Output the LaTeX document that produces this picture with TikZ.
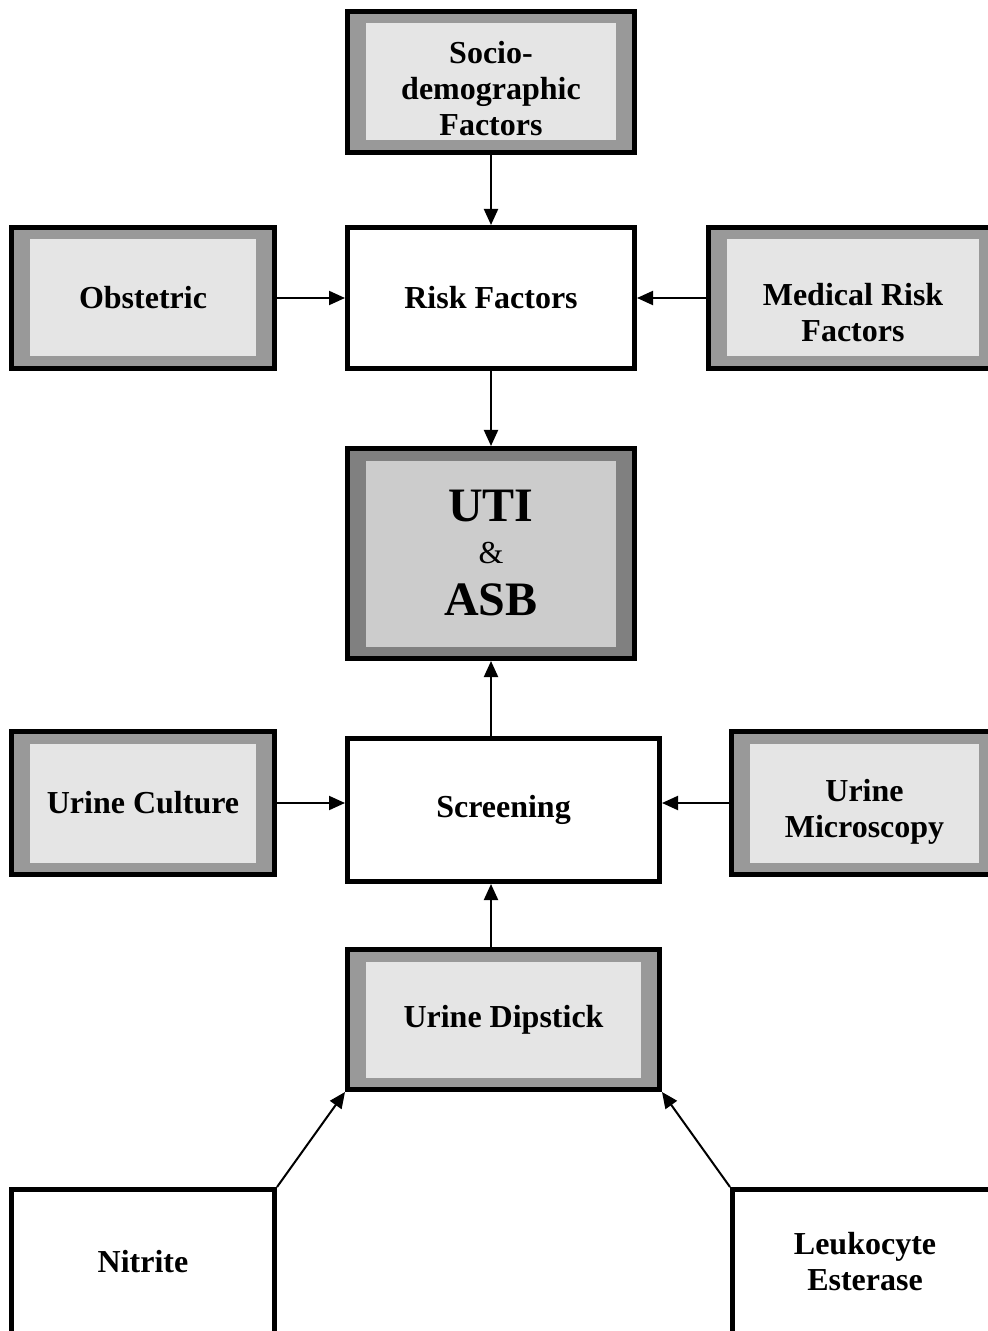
\documentclass[tikz,border=0pt]{standalone}
\usepackage{fontspec}
\setmainfont{Liberation Serif}
\usepackage{tikz}
\usetikzlibrary{arrows.meta}
\definecolor{framegray}{gray}{.6}
\definecolor{lightfill}{gray}{.9}
\definecolor{darkframe}{gray}{.5}
\definecolor{darkfill}{gray}{.8}
\newcommand{\px}{0.5pt}
\newcommand{\widthside}{263*\px}
\newcommand{\widthmid}{287*\px}
\newcommand{\widthwide}{312*\px}
\newcommand{\heightbox}{141*\px}
\newcommand{\dropline}[1]{\rule{0pt}{#1}}
\tikzset{
    common/.style={draw, rectangle, line width=5*\px, minimum height=\heightbox, align=center,
        font=\fontsize{16}{18}\selectfont\bfseries},
    plain/.style={common, fill=white},
    framed/.style 2 args={common, fill=#1,
        path picture={
            \fill[#2]
                ([shift={(18.5*\px,12*\px)}]path picture bounding box.south west) rectangle
                ([shift={(-18.5*\px,-12*\px)}]path picture bounding box.north east);
        }
    },
    lightbox/.style={framed={framegray}{lightfill}},
    darkbox/.style={framed={darkframe}{darkfill}},
    flow/.style={-{Triangle[length=8pt, width=7pt]}, line width=2*\px}
}

\begin{document}
\begin{tikzpicture}[x=\px, y=-\px]
    \useasboundingbox (0,0) rectangle (988,1331);

    \node[lightbox, minimum width=\widthmid] (socio) at (491,82) {\dropline{18pt}Socio-\\demographic\\Factors};
    \node[plain, minimum width=\widthmid] (risk) at (491,298) {Risk Factors};
    \node[lightbox, minimum width=\widthside] (obst) at (143,298) {Obstetric};
    \node[lightbox, minimum width=289*\px] (medical) at (853,298) {\dropline{26pt}Medical Risk\\Factors};
    \node[darkbox, minimum width=\widthmid, minimum height=210*\px] (uti) at (491,553.5)
        {{\fontsize{24}{26}\selectfont UTI}\\[3pt]{\fontsize{16}{18}\selectfont\mdseries\&}\\[8pt]{\fontsize{24}{26}\selectfont ASB}};

    \node[lightbox, minimum width=\widthside, minimum height=143*\px] (culture) at (143,803) {Urine Culture};
    \node[plain, minimum width=\widthwide, minimum height=143*\px] (screening) at (503.5,810) {Screening};
    \node[lightbox, minimum width=266*\px, minimum height=143*\px] (microscopy) at (864.5,803) {\dropline{20pt}Urine\\Microscopy};
    \node[lightbox, minimum width=\widthwide, minimum height=140*\px] (dipstick) at (503.5,1019.5) {Urine Dipstick};

    \node[plain, minimum width=\widthside, minimum height=145*\px] (nitrite) at (143,1262) {Nitrite};
    \node[plain, minimum width=265*\px, minimum height=145*\px] (leukocyte) at (865,1262) {Leukocyte\\Esterase};

    \draw[flow] (socio) -- (risk);
    \draw[flow] (obst) -- (risk);
    \draw[flow] (medical) -- (risk);
    \draw[flow] (risk) -- (uti);
    \draw[flow] (culture.east) -- (culture.east -| screening.west);
    \draw[flow] (microscopy.west) -- (microscopy.west -| screening.east);
    \draw[flow] (uti.south |- screening.north) -- (uti.south);
    \draw[flow] (uti.south |- dipstick.north) -- (uti.south |- screening.south);
    \draw[flow] (nitrite.north east) -- (dipstick.south west);
    \draw[flow] (leukocyte.north west) -- (dipstick.south east);
\end{tikzpicture}
\end{document}
